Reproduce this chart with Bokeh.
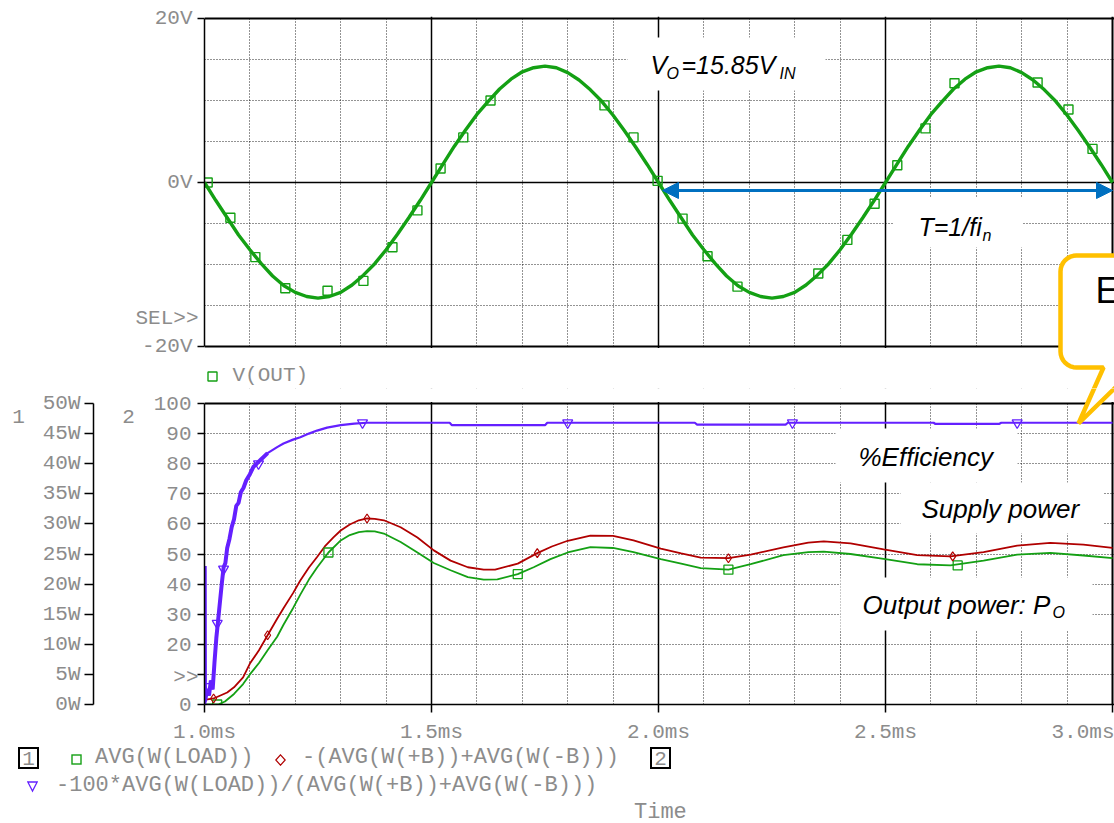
import math
from bokeh.plotting import figure
from bokeh.layouts import column
from bokeh.models import (Range1d, LinearAxis, FixedTicker, Grid, Label, BoxAnnotation,
                          PolyAnnotation, Arrow, NormalHead, CustomJSTickFormatter, Div)
from bokeh.embed import file_html
from bokeh.resources import INLINE

# ---------------- data ----------------
# Top plot: V(OUT) [V] vs time [ms]
vout_t = [1.000, 1.025, 1.050, 1.075, 1.100, 1.125, 1.150, 1.175, 1.200, 1.225,
          1.250, 1.275, 1.300, 1.325, 1.350, 1.375, 1.400, 1.425, 1.450, 1.475,
          1.500, 1.525, 1.550, 1.575, 1.600, 1.625, 1.650, 1.675, 1.700, 1.725,
          1.750, 1.775, 1.800, 1.825, 1.850, 1.875, 1.900, 1.925, 1.950, 1.975,
          2.000, 2.025, 2.050, 2.075, 2.100, 2.125, 2.150, 2.175, 2.200, 2.225,
          2.250, 2.275, 2.300, 2.325, 2.350, 2.375, 2.400, 2.425, 2.450, 2.475,
          2.500, 2.525, 2.550, 2.575, 2.600, 2.625, 2.650, 2.675, 2.700, 2.725,
          2.750, 2.775, 2.800, 2.825, 2.850, 2.875, 2.900, 2.925, 2.950, 2.975, 3.000]
vout_v = [0.0, -2.2, -4.3, -6.4, -8.2, -9.9, -11.4, -12.6, -13.4, -13.9,
          -14.1, -13.9, -13.4, -12.5, -11.3, -9.9, -8.2, -6.3, -4.3, -2.2,
          0.0, 2.2, 4.4, 6.4, 8.3, 9.9, 11.4, 12.6, 13.5, 14.0,
          14.2, 14.0, 13.4, 12.5, 11.3, 9.9, 8.2, 6.3, 4.3, 2.2,
          0.0, -2.2, -4.3, -6.4, -8.2, -9.9, -11.4, -12.6, -13.4, -13.9,
          -14.1, -13.9, -13.4, -12.5, -11.3, -9.9, -8.2, -6.3, -4.3, -2.2,
          0.0, 2.2, 4.4, 6.4, 8.3, 9.9, 11.4, 12.6, 13.5, 14.0,
          14.2, 14.0, 13.4, 12.5, 11.3, 9.9, 8.2, 6.3, 4.3, 2.2, 0.0]
vout_mark_t = [1.007, 1.057, 1.112, 1.178, 1.271, 1.350, 1.414, 1.469, 1.520, 1.570,
               1.630, 1.881, 1.945, 1.998, 2.053, 2.108, 2.174, 2.352, 2.416, 2.476,
               2.526, 2.588, 2.652, 2.835, 2.903, 2.956]
vout_mark_v = [0.0, -4.3, -9.1, -12.9, -13.2, -12.0, -7.9, -3.4, 1.7, 5.5,
               10.0, 9.4, 5.5, 0.2, -4.4, -9.0, -12.7, -11.1, -7.0, -2.6,
               2.1, 6.6, 12.1, 12.2, 8.9, 4.1]

# Bottom plot: AVG(W(LOAD)) [W] (axis 1)
load_t = [1.000, 1.030, 1.045, 1.065, 1.085, 1.100, 1.120, 1.139, 1.160, 1.174,
          1.195, 1.211, 1.230, 1.248, 1.273, 1.300, 1.320, 1.340, 1.358, 1.375,
          1.395, 1.432, 1.469, 1.505, 1.542, 1.580, 1.615, 1.645, 1.690, 1.725,
          1.762, 1.800, 1.850, 1.900, 1.945, 2.005, 2.050, 2.093, 2.154, 2.203,
          2.275, 2.330, 2.364, 2.423, 2.496, 2.570, 2.643, 2.716, 2.790, 2.863,
          2.936, 3.000]
load_w = [0.0, 0.0, 0.5, 1.75, 3.4, 5.0, 6.9, 9.0, 11.25, 13.25,
          16.0, 18.25, 20.75, 22.75, 25.25, 27.25, 28.15, 28.65, 28.8, 28.75,
          28.4, 27.0, 25.25, 23.5, 22.3, 21.15, 20.75, 20.8, 21.65, 22.8,
          24.15, 25.25, 26.15, 26.0, 25.3, 24.15, 23.4, 22.65, 22.4, 23.3,
          24.8, 25.3, 25.4, 25.0, 24.2, 23.3, 23.1, 23.9, 24.9, 25.2,
          24.75, 24.3]
load_mark_t = [1.028, 1.273, 1.690, 2.154, 2.659]
load_mark_w = [0.0, 25.25, 21.65, 22.4, 23.1]

# -(AVG(W(+B))+AVG(W(-B))) [W] (axis 1)
supply_t = [1.000, 1.020, 1.035, 1.050, 1.065, 1.085, 1.100, 1.120, 1.139, 1.160,
            1.174, 1.195, 1.211, 1.230, 1.248, 1.265, 1.284, 1.300, 1.320, 1.340,
            1.358, 1.375, 1.395, 1.432, 1.469, 1.505, 1.542, 1.580, 1.615, 1.640,
            1.690, 1.733, 1.765, 1.800, 1.850, 1.900, 1.945, 2.005, 2.050, 2.093,
            2.154, 2.203, 2.275, 2.330, 2.364, 2.423, 2.496, 2.570, 2.643, 2.716,
            2.790, 2.863, 2.936, 3.000]
supply_w = [0.75, 1.0, 1.5, 2.0, 2.85, 4.5, 6.8, 9.0, 11.5, 14.25,
            16.0, 18.5, 20.6, 22.75, 24.5, 26.25, 27.75, 28.9, 29.9, 30.6,
            30.9, 30.85, 30.6, 29.45, 27.75, 25.6, 23.9, 22.8, 22.4, 22.4,
            23.4, 25.15, 26.25, 27.2, 28.05, 28.0, 27.25, 25.9, 25.1, 24.4,
            24.3, 24.9, 26.1, 26.9, 27.1, 26.75, 25.75, 24.8, 24.6, 25.3,
            26.4, 26.85, 26.55, 26.0]
supply_mark_t = [1.020, 1.139, 1.358, 1.733, 2.154, 2.648]
supply_mark_w = [1.0, 11.5, 30.9, 25.15, 24.3, 24.6]

# -100*AVG(W(LOAD))/(AVG(W(+B))+AVG(W(-B))) [%] (axis 2)
eff_t = [1.000, 1.0005, 1.001, 1.006, 1.010, 1.014, 1.018, 1.022, 1.026, 1.030,
         1.034, 1.038, 1.042, 1.046, 1.050, 1.055, 1.060, 1.065, 1.070, 1.075,
         1.080, 1.086, 1.092, 1.100, 1.108, 1.115, 1.125, 1.139, 1.160, 1.174,
         1.195, 1.211, 1.230, 1.248, 1.270, 1.300, 1.330, 1.358, 1.540, 1.545,
         1.750, 1.755, 2.080, 2.085, 2.280, 2.285, 2.606, 2.610, 2.750, 2.755, 3.000]
eff_pct = [0.0, 46.0, 1.0, 5.0, 3.0, 8.0, 5.0, 14.0, 22.0, 28.0,
           34.0, 40.0, 45.5, 47.0, 52.0, 55.0, 59.0, 61.5, 66.0, 67.0,
           70.5, 72.0, 74.5, 76.5, 79.0, 80.0, 81.5, 83.5, 85.5, 86.7,
           88.0, 88.8, 90.0, 91.0, 92.0, 92.8, 93.3, 93.6, 93.6, 92.8,
           92.8, 93.6, 93.6, 93.0, 93.0, 93.6, 93.6, 93.2, 93.2, 93.6, 93.6]
eff_mark_t = [1.010, 1.028, 1.042, 1.119, 1.348, 1.800, 2.295, 2.790]
eff_mark_pct = [6.0, 27.0, 45.0, 80.0, 93.6, 93.6, 93.6, 93.6]

x_major = [1.0, 1.5, 2.0, 2.5, 3.0]
x_minor = [1.1, 1.2, 1.3, 1.4, 1.6, 1.7, 1.8, 1.9, 2.1, 2.2, 2.3, 2.4, 2.6, 2.7, 2.8, 2.9]
v_ticks = [-20, 0, 20]
v_grid = [-15, -10, -5, 5, 10, 15]
pct_ticks = [0, 10, 20, 30, 40, 50, 60, 70, 80, 90, 100]
w_ticks = [0, 5, 10, 15, 20, 25, 30, 35, 40, 45, 50]

legend_names = ["AVG(W(LOAD))", "-(AVG(W(+B))+AVG(W(-B)))",
                "-100*AVG(W(LOAD))/(AVG(W(+B))+AVG(W(-B)))"]

# ---------------- styling ----------------
GREEN = "#14A014"
RED = "#B00000"
PURPLE = "#6420FF"
GRAY = "#8c8c8c"
BLUE = "#0070C0"
ORANGE = "#FFC000"
MONO = "Liberation Mono"
SANS = "Liberation Sans"
W = 1114


def tx(px):   # canvas x -> time (ms)
    return 1.0 + (px - 204.0) / 454.0


def vy1(py):  # canvas y -> volts (top plot)
    return (182.0 - py) / 8.2


def vy2(py):  # canvas y -> percent (bottom plot)
    return (704.0 - py) / 3.01


def style_axis(ax, size="21px", tick_out=7, standoff=5):
    ax.axis_line_color = "black"
    ax.axis_line_width = 1.5
    ax.major_tick_line_color = "black"
    ax.major_tick_line_width = 1.5
    ax.major_tick_out = tick_out
    ax.major_tick_in = 0
    ax.minor_tick_out = 0
    ax.minor_tick_in = 0
    ax.minor_tick_line_color = None
    ax.major_label_text_font = MONO
    ax.major_label_text_font_size = size
    ax.major_label_text_color = GRAY
    ax.major_label_standoff = standoff


def dotted(g):
    g.grid_line_color = "black"
    g.grid_line_alpha = 0.85
    g.grid_line_dash = "1 2"
    g.grid_line_width = 1


def solid_grid(p, dim, ticks, width=1.5):
    p.add_layout(Grid(dimension=dim, ticker=FixedTicker(ticks=ticks),
                      grid_line_color="black", grid_line_width=width))


def lab(p, x, y, text, size="21px", color=GRAY, font=MONO, align="left", style="normal",
        side="center", **kw):
    l = Label(x=x, y=y, text=text, text_font=font, text_font_size=size, text_color=color,
              text_align=align, text_baseline="middle", text_font_style=style, **kw)
    p.add_layout(l, side)
    return l


def white_box(p, l, r, t, b, fy):
    p.add_layout(BoxAnnotation(left=tx(l), right=tx(r), top=fy(t), bottom=fy(b),
                               fill_color="white", fill_alpha=1.0, line_alpha=0,
                               level="underlay"))


def bubble_outline():
    pts = []
    r = 16
    L, T, B, R = 1060, 255, 367, 1220
    pts.append((R, T))
    for k in range(9):
        a = math.pi / 2 + k * (math.pi / 2) / 8
        pts.append((L + r + r * math.cos(a), T + r - r * math.sin(a)))
    for k in range(9):
        a = math.pi + k * (math.pi / 2) / 8
        pts.append((L + r + r * math.cos(a), B - r - r * math.sin(a)))
    pts += [(1103, B), (1078, 423), (R, 423 - (R - 1078) * 35.0 / 36.0)]
    return pts


bub = bubble_outline()
X_RANGE_END = tx(W)

# ---------------- top figure (canvas y 0..388) ----------------
p1 = figure(width=W, height=388, x_range=Range1d(1.0, X_RANGE_END),
            y_range=Range1d(vy1(388), vy1(16)),
            output_backend="svg", toolbar_location=None,
            min_border_left=204, min_border_right=0, min_border_top=16, min_border_bottom=0)
p1.outline_line_color = None
p1.background_fill_color = "white"
p1.border_fill_color = "white"
p1.xaxis.visible = False
p1.yaxis.ticker = FixedTicker(ticks=v_ticks)
p1.yaxis.formatter = CustomJSTickFormatter(code="return tick + 'V';")
p1.yaxis.bounds = (-20, 20)
style_axis(p1.yaxis[0], size="21px", tick_out=7, standoff=5)
p1.xgrid.ticker = FixedTicker(ticks=x_minor)
p1.ygrid.ticker = FixedTicker(ticks=v_grid)
dotted(p1.xgrid[0])
dotted(p1.ygrid[0])
solid_grid(p1, 0, [1.5, 2.0, 2.5])
solid_grid(p1, 0, [3.0], 2.0)
solid_grid(p1, 1, [0])
solid_grid(p1, 1, [-20, 20], 2.0)

# area between the two plots and the text backgrounds (drawn over the grid only)
white_box(p1, 150, 1200, 347.5, 420, vy1)
white_box(p1, 627, 825, 37, 90, vy1)
white_box(p1, 893, 1022, 197, 247, vy1)

p1.line(vout_t, vout_v, line_color=GREEN, line_width=3.4)
p1.scatter(vout_mark_t, vout_mark_v, marker="square", size=9, fill_color=None,
           line_color=GREEN, line_width=1.4)

lab(p1, tx(650), vy1(64), "V", size="25px", color="black", font=SANS, style="italic")
lab(p1, tx(666), vy1(73), "O", size="16px", color="black", font=SANS, style="italic")
lab(p1, tx(681), vy1(64), "=15.85V", size="25px", color="black", font=SANS, style="italic")
lab(p1, tx(779), vy1(73), "IN", size="16px", color="black", font=SANS, style="italic")
lab(p1, tx(918), vy1(226), "T=1/fi", size="25px", color="black", font=SANS, style="italic")
lab(p1, tx(982), vy1(235), "n", size="16px", color="black", font=SANS, style="italic")

p1.add_layout(Arrow(start=NormalHead(size=16, fill_color=BLUE, line_color=BLUE),
                    end=NormalHead(size=16, fill_color=BLUE, line_color=BLUE),
                    x_start=tx(662), y_start=vy1(190), x_end=tx(1112), y_end=vy1(190),
                    line_color=BLUE, line_width=3))

p1.add_layout(PolyAnnotation(xs=[tx(x) for x, y in bub], ys=[vy1(y) for x, y in bub],
                             fill_color="white", fill_alpha=1.0, line_color=ORANGE,
                             line_width=4.5, line_alpha=1.0))
lab(p1, tx(1095), vy1(290), "Efficiency", size="36px", color="black", font=SANS)

# legend of the top plot
p1.scatter([tx(212)], [vy1(376)], marker="square", size=9, fill_color=None,
           line_color=GREEN, line_width=1.4)
lab(p1, tx(232), vy1(375), "V(OUT)", size="21px")
lab(p1, tx(198), vy1(318), "SEL>>", size="21px", align="right", side="left")

# ---------------- bottom figure (canvas y 388..747) ----------------
p2 = figure(width=W, height=359, x_range=Range1d(1.0, X_RANGE_END),
            y_range=Range1d(0, vy2(388)),
            output_backend="svg", toolbar_location=None,
            min_border_left=204, min_border_right=0, min_border_top=0, min_border_bottom=43)
p2.outline_line_color = None
p2.background_fill_color = "white"
p2.border_fill_color = "white"
p2.extra_y_ranges = {"w": Range1d(0, vy2(388) / 2.0)}

p2.xaxis.ticker = FixedTicker(ticks=x_major)
p2.xaxis.formatter = CustomJSTickFormatter(code="return tick.toFixed(1) + 'ms';")
style_axis(p2.xaxis[0], size="21px", tick_out=8, standoff=8)

ax2 = p2.yaxis[0]
ax2.ticker = FixedTicker(ticks=pct_ticks)
ax2.formatter = CustomJSTickFormatter(code="return tick == 10 ? '' : String(tick);")
ax2.bounds = (0, 100)
style_axis(ax2, size="21px", tick_out=7, standoff=6)
ax2.axis_label = " "
ax2.axis_label_text_font_size = "2px"
ax2.axis_label_standoff = 1

# labels between the two left axes
lab(p2, tx(128), vy2(416), "2", size="21px", align="center", side="left")
lab(p2, tx(198), vy2(677), ">>", size="21px", align="right", side="left")
lab(p2, tx(18), vy2(416), "1", size="21px", align="center", side="left")

ax1 = LinearAxis(y_range_name="w", ticker=FixedTicker(ticks=w_ticks), bounds=(0, 50),
                 formatter=CustomJSTickFormatter(code="return tick + 'W';"))
style_axis(ax1, size="21px", tick_out=9, standoff=4)
p2.add_layout(ax1, "left")

p2.xgrid.ticker = FixedTicker(ticks=x_minor)
p2.ygrid.ticker = FixedTicker(ticks=pct_ticks[1:-1])
dotted(p2.xgrid[0])
dotted(p2.ygrid[0])
solid_grid(p2, 0, [1.5, 2.0, 2.5])
solid_grid(p2, 0, [3.0], 2.0)
solid_grid(p2, 1, [100], 2.0)

white_box(p2, 150, 1200, 380, 401.5, vy2)
white_box(p2, 835, 1017, 428, 482, vy2)
white_box(p2, 900, 1103, 482, 533, vy2)
white_box(p2, 840, 1092, 577, 630, vy2)

p2.line(load_t, load_w, y_range_name="w", line_color=GREEN, line_width=1.8)
p2.line(supply_t, supply_w, y_range_name="w", line_color=RED, line_width=1.8)
p2.line(eff_t, eff_pct, line_color=PURPLE, line_width=2.2)
p2.line(eff_t[:28], eff_pct[:28], line_color=PURPLE, line_width=4.0)
p2.scatter(load_mark_t, load_mark_w, y_range_name="w", marker="square", size=9,
           fill_color=None, line_color=GREEN, line_width=1.3)
p2.scatter(supply_mark_t, supply_mark_w, y_range_name="w", marker="diamond", size=9,
           fill_color=None, line_color=RED, line_width=1.2)
p2.scatter(eff_mark_t, eff_mark_pct, marker="inverted_triangle", size=10,
           fill_color=None, line_color=PURPLE, line_width=1.3)

lab(p2, tx(858), vy2(456), "%Efficiency", size="26px", color="black", font=SANS, style="italic")
lab(p2, tx(921), vy2(508), "Supply power", size="26px", color="black", font=SANS, style="italic")
lab(p2, tx(862), vy2(604), "Output power: P", size="26px", color="black", font=SANS, style="italic")
lab(p2, tx(1052), vy2(612), "O", size="16px", color="black", font=SANS, style="italic")

p2.add_layout(PolyAnnotation(xs=[tx(x) for x, y in bub], ys=[vy2(y) for x, y in bub],
                             fill_color="white", fill_alpha=1.0, line_color=ORANGE,
                             line_width=4.5, line_alpha=1.0))

# ---------------- legend strip (canvas y 747..823) ----------------
TOP = 747


def txt(left, cy, text, size=22, color=GRAY):
    return (f'<div style="position:absolute;left:{left}px;top:{cy - TOP - size / 2:.1f}px;'
            f'font-size:{size}px;line-height:{size}px;color:{color};white-space:pre;">{text}</div>')


def boxed(left, text):
    return (f'<div style="position:absolute;left:{left}px;top:0px;width:21px;height:22px;'
            f'border:2px solid #000;text-align:center;font-size:21px;line-height:22px;'
            f'color:{GRAY};">{text}</div>')


def svg_marker(cx, cy, shape, color):
    if shape == "square":
        body = f'<rect x="1" y="1" width="9" height="9" fill="none" stroke="{color}" stroke-width="1.4"/>'
    elif shape == "diamond":
        body = f'<polygon points="5.5,0.8 10.2,6 5.5,11.2 0.8,6" fill="none" stroke="{color}" stroke-width="1.2"/>'
    else:
        body = f'<polygon points="0.8,1 10.2,1 5.5,10" fill="none" stroke="{color}" stroke-width="1.3"/>'
    return (f'<svg style="position:absolute;left:{cx - 5.5:.1f}px;top:{cy - TOP - 6:.1f}px;" '
            f'width="11" height="12">{body}</svg>')


legend_html = (
    f'<div style="position:relative;width:{W}px;height:76px;font-family:\'{MONO}\',monospace;">'
    + boxed(18, "1")
    + svg_marker(76, 760, "square", GREEN)
    + txt(95, 758, legend_names[0])
    + svg_marker(280, 760, "diamond", RED)
    + txt(302, 758, legend_names[1])
    + boxed(650, "2")
    + svg_marker(32, 787, "triangle", PURPLE)
    + txt(56, 786, legend_names[2])
    + txt(634, 813, "Time")
    + '</div>'
)
legend_div = Div(text=legend_html, width=W, height=76, margin=0)

layout = column(p1, p2, legend_div, spacing=0)
open("out.html", "w").write(file_html(layout, INLINE))
